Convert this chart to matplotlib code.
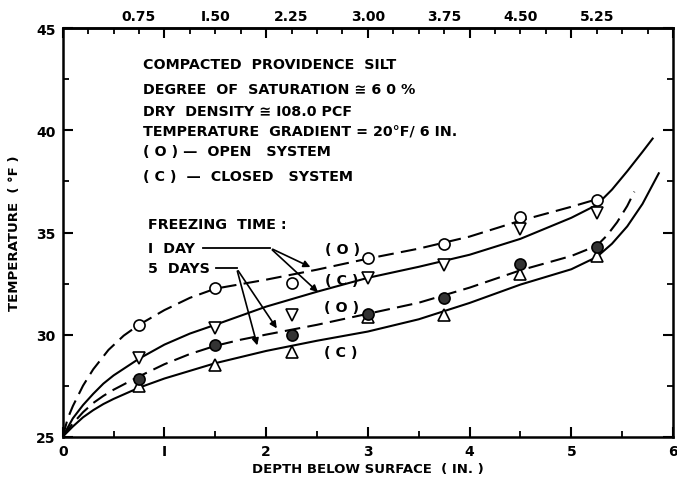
import numpy as np
import matplotlib
matplotlib.use("Agg")
import matplotlib.pyplot as plt
from matplotlib.ticker import MultipleLocator, FixedLocator

# Measured temperatures at the sample depths (in.)
depth_pts = [0.75, 1.50, 2.25, 3.00, 3.75, 4.50, 5.25]
open_1day = [30.48, 32.30, 32.54, 33.77, 34.45, 35.77, 36.61]
closed_1day = [28.87, 30.34, 30.97, 32.79, 33.42, 35.19, 35.97]
open_5day = [27.84, 29.51, 29.99, 31.02, 31.81, 33.47, 34.30]
closed_5day = [27.50, 28.53, 29.16, 30.88, 30.97, 32.98, 33.86]

# Faired curves through the measurements
open_1day_x = [0, 0.05, 0.1, 0.2, 0.3, 0.45, 0.6, 0.75, 1.0, 1.25, 1.5, 2.0, 2.5,
               3.0, 3.5, 4.0, 4.5, 5.0, 5.3]
open_1day_y = [25, 25.9, 26.5, 27.5, 28.3, 29.25, 29.95, 30.48, 31.2, 31.8,
               32.25, 32.69, 33.18, 33.72, 34.21, 34.80, 35.58, 36.26, 36.70]
closed_1day_x = [0, 0.1, 0.2, 0.3, 0.4, 0.5, 0.75, 1.0, 1.25, 1.5, 2.0, 2.5, 3.0,
                 3.5, 4.0, 4.5, 5.0, 5.25, 5.4, 5.55, 5.7, 5.8]
closed_1day_y = [25, 25.9, 26.55, 27.1, 27.6, 28.0, 28.82, 29.51, 30.05, 30.48,
                 31.37, 32.10, 32.78, 33.32, 33.91, 34.69, 35.72, 36.35, 37.1,
                 38.0, 38.95, 39.6]
open_5day_x = [0, 0.1, 0.2, 0.3, 0.4, 0.5, 0.75, 1.0, 1.25, 1.5, 1.75, 2.0, 2.5,
               3.0, 3.5, 4.0, 4.5, 5.0, 5.25, 5.35, 5.45, 5.55, 5.62]
open_5day_y = [25, 25.65, 26.2, 26.65, 27.0, 27.3, 27.95, 28.55, 29.05, 29.45,
               29.75, 30.0, 30.48, 31.02, 31.56, 32.3, 33.15, 33.85, 34.35,
               34.85, 35.5, 36.3, 37.0]
closed_5day_x = [0, 0.1, 0.2, 0.3, 0.4, 0.5, 0.75, 1.0, 1.5, 2.0, 2.5, 3.0, 3.5,
                 4.0, 4.5, 5.0, 5.25, 5.4, 5.55, 5.7, 5.86]
closed_5day_y = [25, 25.5, 25.95, 26.3, 26.6, 26.85, 27.4, 27.85, 28.6, 29.2,
                 29.7, 30.15, 30.75, 31.55, 32.45, 33.2, 33.8, 34.45, 35.3,
                 36.4, 37.9]

bottom_ticks = [0, 1, 2, 3, 4, 5, 6]
bottom_labels = ["0", "I", "2", "3", "4", "5", "6"]
top_ticks = [0.75, 1.50, 2.25, 3.00, 3.75, 4.50, 5.25]
top_labels = ["0.75", "I.50", "2.25", "3.00", "3.75", "4.50", "5.25"]
y_ticks = [25, 30, 35, 40, 45]

notes = [
    "COMPACTED  PROVIDENCE  SILT",
    "DEGREE  OF  SATURATION \u2245 6 0 %",
    "DRY  DENSITY \u2245 I08.0 PCF",
    "TEMPERATURE  GRADIENT = 20°F/ 6 IN.",
    "( O ) \u2014  OPEN   SYSTEM",
    "( C )  \u2014  CLOSED   SYSTEM",
]

plt.rcParams["font.family"] = ["DejaVu Sans"]
plt.rcParams["font.weight"] = "bold"

fig = plt.figure(figsize=(6.77, 4.85), dpi=100)
ax = fig.add_axes([0.0926, 0.0975, 0.9015, 0.8421])
ax.set_xlim(0, 6)
ax.set_ylim(25, 45)

dash = (0, (7.5, 3.5))
lw = 1.5
ax.plot(open_1day_x, open_1day_y, color="black", lw=lw, linestyle=dash)
ax.plot(closed_1day_x, closed_1day_y, color="black", lw=lw)
ax.plot(open_5day_x, open_5day_y, color="black", lw=lw, linestyle=dash)
ax.plot(closed_5day_x, closed_5day_y, color="black", lw=lw)

ms = 8
ax.plot(depth_pts, open_1day, "o", ms=ms, mfc="white", mec="black", mew=1.2, zorder=5)
ax.plot(depth_pts, closed_1day, "v", ms=ms + 1, mfc="white", mec="black", mew=1.2, zorder=5)
ax.plot(depth_pts, closed_5day, "^", ms=ms + 1, mfc="white", mec="black", mew=1.2, zorder=5)
ax.plot(depth_pts, open_5day, "o", ms=ms, mfc="#333333", mec="black", mew=1.2, zorder=6)

# Axes frame and ticks
for s in ax.spines.values():
    s.set_linewidth(1.8)
ax.xaxis.set_major_locator(FixedLocator(bottom_ticks))
ax.set_xticklabels(bottom_labels)
ax.xaxis.set_minor_locator(MultipleLocator(0.5))
ax.yaxis.set_major_locator(FixedLocator(y_ticks))
ax.yaxis.set_minor_locator(MultipleLocator(2.5))
ax.tick_params(which="major", direction="in", length=7, width=1.5,
               top=True, right=True, labelsize=10, pad=5)
ax.tick_params(which="minor", direction="in", length=4, width=1.3,
               top=False, right=True)
for lab in ax.get_xticklabels() + ax.get_yticklabels():
    lab.set_fontweight("bold")

sec = ax.secondary_xaxis("top")
sec.xaxis.set_major_locator(FixedLocator(top_ticks))
sec.set_xticklabels(top_labels)
sec.xaxis.set_minor_locator(FixedLocator(
    [v for v in np.arange(0.25, 6, 0.25) if abs(v / 0.75 - round(v / 0.75)) > 1e-6]))
sec.tick_params(which="major", direction="in", length=4, width=1.3, labelsize=10, pad=4)
sec.tick_params(which="minor", direction="in", length=4, width=1.3)
sec.spines["top"].set_linewidth(1.8)
for lab in sec.get_xticklabels():
    lab.set_fontweight("bold")

ax.set_xlabel("DEPTH BELOW SURFACE  ( IN. )", fontsize=9.5, fontweight="bold", labelpad=3)
ax.set_ylabel("TEMPERATURE  ( °F )", fontsize=9.5, fontweight="bold", labelpad=11)

# Description block
note_fs = 10.3
note_y = [43.25, 42.03, 40.96, 39.99, 39.0, 37.78]
for txt, yy in zip(notes, note_y):
    ax.text(0.79, yy, txt, fontsize=note_fs, fontweight="bold", va="center", ha="left")

# Freezing-time callouts
ax.text(0.84, 35.42, "FREEZING  TIME :", fontsize=note_fs, fontweight="bold", va="center")
ax.text(0.84, 34.24, "I  DAY", fontsize=note_fs, fontweight="bold", va="center")
ax.text(0.84, 33.24, "5  DAYS", fontsize=note_fs, fontweight="bold", va="center")

ax.plot([1.38, 2.04], [34.24, 34.24], color="black", lw=1.3)
ax.plot([1.51, 1.71], [33.24, 33.24], color="black", lw=1.3)
arrow = dict(arrowstyle="-|>", color="black", lw=1.2, mutation_scale=10)
ax.annotate("", xy=(2.46, 33.25), xytext=(2.04, 34.24), arrowprops=arrow)
ax.annotate("", xy=(2.53, 31.99), xytext=(2.04, 34.24), arrowprops=arrow)
ax.annotate("", xy=(2.12, 30.19), xytext=(1.71, 33.24), arrowprops=arrow)
ax.annotate("", xy=(1.92, 29.34), xytext=(1.71, 33.24), arrowprops=arrow)

for xx, yy, t in [(2.75, 34.19, "( O )"), (2.74, 32.67, "( C )"),
                  (2.74, 31.34, "( O )"), (2.73, 29.13, "( C )")]:
    ax.text(xx, yy, t, fontsize=note_fs, fontweight="bold", ha="center", va="center")

fig.savefig("out.png", dpi=100)
